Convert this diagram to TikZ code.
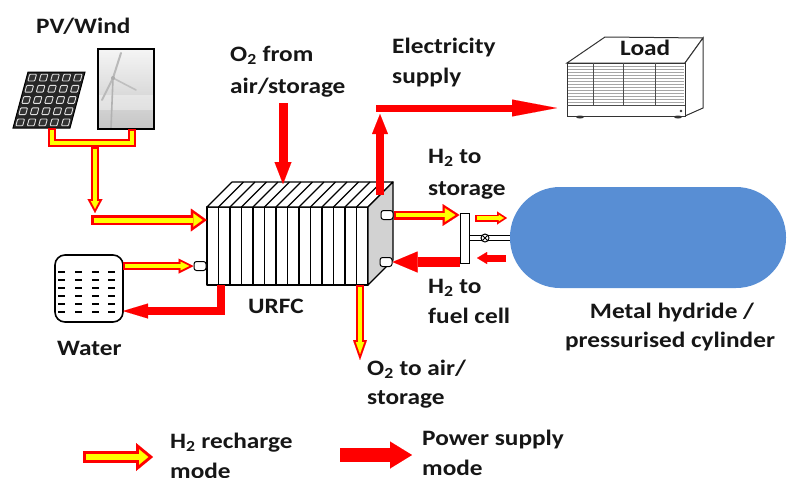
\documentclass[tikz,border=0pt]{standalone}
\usepackage{fontspec}
\setmainfont{Carlito}[FakeStretch=1.15]
\usetikzlibrary{arrows.meta}
\definecolor{tankblue}{RGB}{88,142,212}
\definecolor{flowred}{RGB}{255,0,0}
\definecolor{flowyellow}{RGB}{255,255,0}
\definecolor{ink}{RGB}{22,22,22}

% Hollow (yellow, red-rimmed) arrow: #1 shaft width, #2 head length, #3 head width, #4 path
\newcommand\hollowarrow[4]{%
  \pgfmathsetmacro\haD{#1/4}%
  \pgfmathsetmacro\haI{#1/2}%
  \pgfmathsetmacro\haB{\haD/sin(atan(#3/(2*#2)))}%
  \pgfmathsetmacro\haL{#2-\haB-\haD}%
  \pgfmathsetmacro\haW{#3*\haL/#2}%
  \draw[draw=flowred, line width=#1pt,
        -{Triangle[length=#2pt,width=#3pt,line width=0.01pt]}] #4;%
  \draw[draw=flowyellow, line width=\haI pt, shorten >=\haB pt, shorten <=\haD pt,
        -{Triangle[length=\haL pt,width=\haW pt,line width=0.01pt]}] #4;%
}

\begin{document}
\begin{tikzpicture}[x=1pt,y=-1pt,
  lbl/.style={font=\bfseries\fontsize{22}{26}\selectfont, text=ink, inner sep=0pt},
  stub/.style={draw=black, fill=white, line width=1pt, rounded corners=2.5pt,
               minimum width=12pt, minimum height=9pt, inner sep=0pt},
  redarrow/.style n args={3}{draw=flowred, line width=#1,
               -{Triangle[length=#2,width=#3,line width=0.01pt]}},
  pipeout/.style={draw=flowred, line width=8pt, line join=miter},
  pipein/.style={draw=flowyellow, line width=4pt, line join=miter},
  plate/.style={draw=black, line width=1.2pt, line join=round}
]
\useasboundingbox (0,0) rectangle (795,477);
\clip (0,0) rectangle (795,477);

% ---------- solar panel ----------
\begin{scope}[shift={(13,128)}, x={(11.4pt,0pt)}, y={(3pt,11.2pt)}]
  \filldraw[fill=black!85, draw=black, line width=1pt] (0,0) -- (5,0) -- (5,5) -- (0,5) -- cycle;
  \foreach \i in {0,...,4}
    \foreach \j in {0,...,4}
      \draw[draw=white!75!gray, line width=0.9pt, fill=black!80, rounded corners=0.8pt]
        ({\i+.2},{\j+.2}) -- ({\i+.8},{\j+.2}) -- ({\i+.8},{\j+.8}) -- ({\i+.2},{\j+.8}) -- cycle;
\end{scope}
\coordinate (pvOut) at (52,128);

% ---------- wind turbine photo ----------
\shade[top color=gray!8, bottom color=gray!45] (98,49) rectangle (154,129);
\fill[white, opacity=0.35] (98,95) rectangle (154,110);
\draw[gray!60, line width=1.6pt] (113,78) -- (111,128);
\draw[gray!55, line width=2pt, line cap=round] (113,78) -- (121,53);
\draw[gray!55, line width=1.8pt, line cap=round] (113,78) -- (102,100);
\draw[gray!50, line width=1.6pt, line cap=round] (113,78) -- (136,90);
\fill[gray!65] (113,78) circle (2pt);
\draw[black, line width=1.3pt] (98,49) rectangle (154,129);
\coordinate (wdOut) at (132,129);

% ---------- PV/wind feeder pipes ----------
\coordinate (tee) at (95,143);
\draw[pipeout] (pvOut) -- (pvOut|-tee) -- (wdOut|-tee) -- (wdOut);
\draw[pipein] ([yshift=-2pt]pvOut) -- (pvOut|-tee) -- (wdOut|-tee) -- ([yshift=-2pt]wdOut);
\coordinate (dropEnd) at (95,213);
\hollowarrow{8}{14}{15}{([yshift=-4pt]tee) -- (dropEnd)}

% ---------- URFC stack ----------
\filldraw[fill=white, plate] (207,207) rectangle (368,285);
\filldraw[fill=white, plate] (207,207) -- (232,182) -- (393,182) -- (368,207) -- cycle;
\filldraw[fill=gray!35, plate] (368,207) -- (393,182) -- (393,260) -- (368,285) -- cycle;
\foreach \k in {1,...,13} {
  \draw[plate] ({207+\k*11.5},207) -- ({207+\k*11.5},285);
  \draw[plate] ({207+\k*11.5},207) -- ({232+\k*11.5},182);
}
\node[inner sep=0pt, minimum width=161pt, minimum height=78pt] (urfc) at (287.5,246) {};
\node[stub] (stubH2out) at (387,215) {};
\node[stub] (stubH2in)  at (386,262) {};
\node[stub] (stubWater) at (200,266) {};
\coordinate (stackTop)  at (283,184);
\coordinate (stackElec) at (380,195);
\coordinate (stackO2)   at (360,285);
\coordinate (stackDrain) at (221,285);

% ---------- water tank ----------
\draw[black, line width=1.6pt, fill=white, rounded corners=10pt] (55,255) rectangle (123,322);
\foreach \r in {272,280,288,296,304,312}
  \foreach \c in {58,75,92,108}
    \draw[black, line width=1.6pt] (\c,\r) -- ({\c+7},\r);
\coordinate (tankIn) at (123,311);
\coordinate (tankOut) at (123,266);

% ---------- load ----------
\filldraw[fill=white, draw=black!80, line width=1pt] (567,63) -- (605,37) -- (703,38) -- (685,63) -- cycle;
\filldraw[fill=white, draw=black!80, line width=1pt] (685,63) -- (703,38) -- (703,108) -- (685,116) -- cycle;
\filldraw[fill=white, draw=black!80, line width=1pt] (567,63) rectangle (685,116);
\foreach \s in {66,69,...,104}
  \draw[gray!70, line width=0.7pt] (568,\s) -- (684,\s);
\foreach \s in {593,623,655}
  \draw[black!70, line width=0.8pt] (\s,63) -- (\s,105);
\draw[black!70, line width=0.8pt] (567,105) -- (685,105);
\fill[black!80] (580,117) ellipse (4pt and 1.5pt);
\fill[black!80] (678,117) ellipse (4pt and 1.5pt);
\fill[black!80] (681,111) circle (1.3pt);
\coordinate (loadIn) at (557,108);

% ---------- storage cylinder and manifold ----------
\draw[black, line width=1pt] (469,235.5) -- (512,235.5);
\draw[black, line width=1pt] (469,240.5) -- (512,240.5);
\filldraw[fill=white, draw=black, line width=1pt] (485,238) circle (4pt);
\draw[black, line width=0.8pt] (482.3,235.3) -- (487.7,240.7) (482.3,240.7) -- (487.7,235.3);
\fill[tankblue] (510,187) [rounded corners=50pt] rectangle (786,288);
\node[draw=black, fill=white, line width=1pt, minimum width=9pt, minimum height=50pt, inner sep=0pt]
  (manifold) at (464.5,238) {};

% ---------- labels ----------
\node[lbl, anchor=base west] (tPV) at (36,33) {PV/Wind};
\node[lbl, anchor=base west] (tO2a) at (230,61) {O\textsubscript{2} from};
\node[lbl, anchor=base west] (tO2b) at (230,93) {air/storage};
\node[lbl, anchor=base west] (tEl1) at (392,53) {Electricity};
\node[lbl, anchor=base west] (tEl2) at (392,83) {supply};
\node[lbl, anchor=base west] (tLoad) at (620,55) {Load};
\node[lbl, anchor=base west] (tHs1) at (428,163) {H\textsubscript{2} to};
\node[lbl, anchor=base west] (tHs2) at (428,195) {storage};
\node[lbl, anchor=base west] (tURFC) at (248,313) {URFC};
\node[lbl, anchor=base west] (tHf1) at (428,293) {H\textsubscript{2} to};
\node[lbl, anchor=base west] (tHf2) at (428,323) {fuel cell};
\node[lbl, anchor=base west] (tOo1) at (367,375) {O\textsubscript{2} to air/};
\node[lbl, anchor=base west] (tOo2) at (367,404) {storage};
\node[lbl, anchor=base west] (tW) at (57,355) {Water};
\node[lbl, anchor=base] (tM1) at (672,318) {Metal hydride /};
\node[lbl, anchor=base] (tM2) at (670,347) {pressurised cylinder};
\node[lbl, anchor=base west] (tL1) at (170,448) {H\textsubscript{2} recharge};
\node[lbl, anchor=base west] (tL2) at (170,478) {mode};
\node[lbl, anchor=base west] (tL3) at (422,445) {Power supply};
\node[lbl, anchor=base west] (tL4) at (422,475) {mode};

% ---------- recharge-mode flows (hollow arrows) ----------
\coordinate (feedStart) at (91,220);
\hollowarrow{10}{16}{23}{(feedStart) -- (urfc.west|-feedStart)}
\hollowarrow{8}{15}{15}{(tankOut) -- (stubWater.west)}
\hollowarrow{9}{17}{22}{(stubH2out.east) -- (manifold.west|-stubH2out)}
\coordinate (toTankA) at (475,218);
\coordinate (toTankB) at (507,218);
\hollowarrow{7}{10}{13}{(toTankA) -- (toTankB)}
\coordinate (o2OutEnd) at (360,360);
\hollowarrow{8}{20}{14}{(stackO2) -- (o2OutEnd)}

% ---------- power-supply-mode flows (solid arrows) ----------
\coordinate (o2InStart) at (283,103);
\draw[redarrow={9pt}{22pt}{17pt}] (o2InStart) -- (stackTop);
\coordinate (elecTop) at (380,114);
\draw[redarrow={8pt}{20pt}{16pt}] (stackElec) -- (elecTop);
\coordinate (elecCorner) at (376,108);
\draw[redarrow={7pt}{45pt}{17pt}] (elecCorner) -- (loadIn);
\draw[redarrow={10pt}{25pt}{21pt}] (manifold.west|-stubH2in) -- (stubH2in.east);
\coordinate (fromTankA) at (506,258);
\coordinate (fromTankB) at (477,258);
\draw[redarrow={7pt}{10pt}{12pt}] (fromTankA) -- (fromTankB);
\draw[redarrow={8pt}{25pt}{15pt}, line join=miter] (stackDrain) |- (tankIn);

% ---------- legend ----------
\coordinate (lgYa) at (83,457);
\coordinate (lgYb) at (153,457);
\hollowarrow{12}{17}{28}{(lgYa) -- (lgYb)}
\coordinate (lgRa) at (340,455);
\coordinate (lgRb) at (412,455);
\draw[redarrow={14pt}{22pt}{27pt}] (lgRa) -- (lgRb);
\end{tikzpicture}
\end{document}
